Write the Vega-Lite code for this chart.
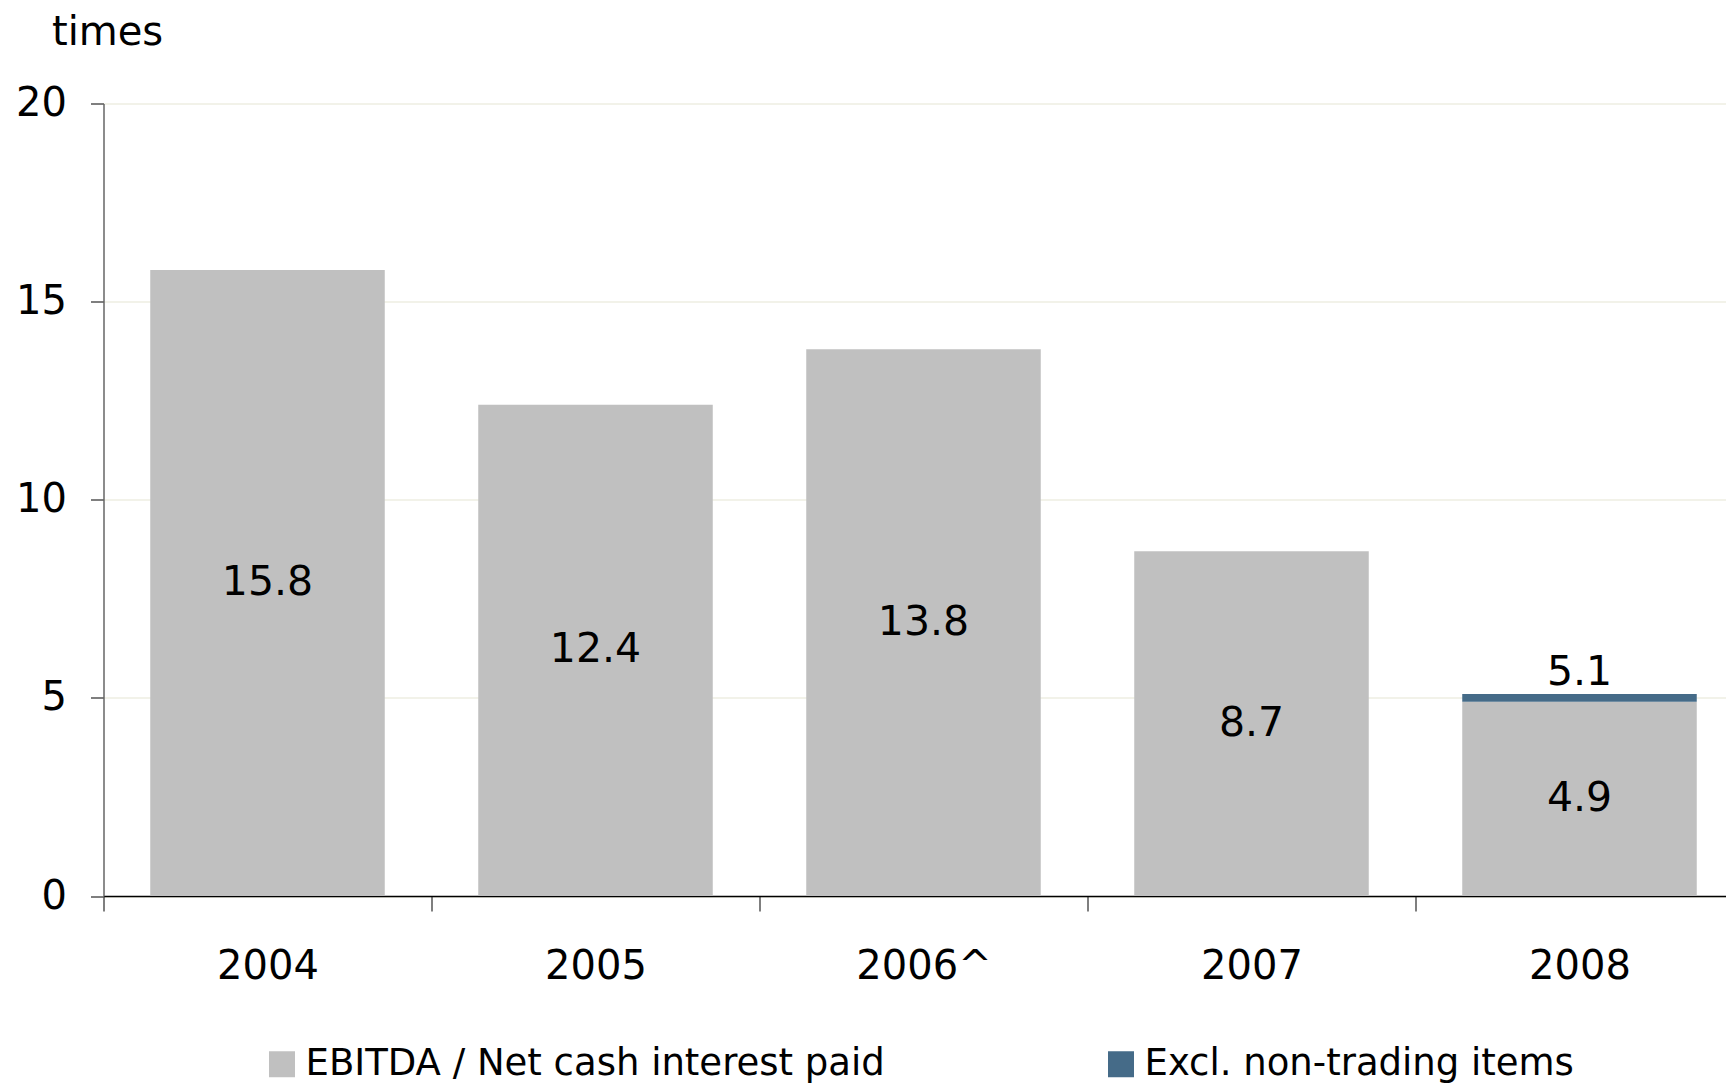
{
  "$schema": "https://vega.github.io/schema/vega-lite/v6.json",
  "autosize": "none",
  "padding": {"left": 103.5, "top": 103.5, "right": 0, "bottom": 187},
  "width": 1622.5,
  "height": 792.5,
  "background": "white",
  "config": {
    "view": {"stroke": null},
    "font": "DejaVu Sans"
  },
  "datasets": {
    "main": [
      {"year": "2004", "series": "EBITDA / Net cash interest paid", "value": 15.8, "label": "15.8"},
      {"year": "2005", "series": "EBITDA / Net cash interest paid", "value": 12.4, "label": "12.4"},
      {"year": "2006^", "series": "EBITDA / Net cash interest paid", "value": 13.8, "label": "13.8"},
      {"year": "2007", "series": "EBITDA / Net cash interest paid", "value": 8.7, "label": "8.7"},
      {"year": "2008", "series": "EBITDA / Net cash interest paid", "value": 4.9, "label": "4.9"},
      {"year": "2008", "series": "Excl. non-trading items", "value": 0.2, "label": "5.1"}
    ],
    "totals": [
      {"year": "2008", "total": 5.1, "label": "5.1"}
    ]
  },
  "layer": [
    {
      "data": {"name": "main"},
      "mark": {"type": "bar"},
      "encoding": {
        "x": {
          "field": "year", "type": "nominal", "sort": null,
          "scale": {"paddingInner": 0.285, "paddingOuter": 0.1425, "range": [0, 1640]},
          "axis": {
            "title": null, "labelAngle": 0, "labelFont": "DejaVu Sans", "labelFontSize": 40,
            "labelColor": "black", "labelPadding": 35, "tickSize": 15,
            "tickOffset": -164, "labelOffset": 164,
            "tickColor": "#555555", "tickWidth": 1.5, "domainColor": "black", "domainWidth": 1.5,
            "labelBaseline": "top"
          }
        },
        "y": {
          "field": "value", "type": "quantitative", "stack": "zero",
          "scale": {"domain": [0, 20], "nice": false},
          "axis": {
            "values": [0, 5, 10, 15, 20], "title": "times", "titleAngle": 0, "titleAlign": "left",
            "titleBaseline": "alphabetic", "titleX": -52, "titleY": -59, "titleFont": "DejaVu Sans",
            "titleFontSize": 40, "titleFontWeight": "normal", "titleColor": "black",
            "labelFont": "DejaVu Sans", "labelFontSize": 40, "labelColor": "black", "labelPadding": 24,
            "tickSize": 13, "tickColor": "#555555", "tickWidth": 1.5, "domainColor": "#666666", "domainWidth": 1.5,
            "grid": true, "gridColor": "#EEEEE2", "gridWidth": 1.5
          }
        },
        "color": {
          "field": "series", "type": "nominal",
          "scale": {"domain": ["EBITDA / Net cash interest paid", "Excl. non-trading items"], "range": ["#C0C0C0", "#456B88"]},
          "legend": {
            "title": null, "orient": "none", "direction": "horizontal", "legendX": 160, "legendY": 942,
            "symbolType": "square", "symbolSize": 676, "symbolStrokeWidth": 0, "symbolOpacity": 1,
            "labelFont": "DejaVu Sans", "labelFontSize": 37, "labelColor": "black", "labelOffset": 5,
            "columnPadding": 217, "padding": 0, "labelLimit": 1000
          }
        },
        "order": {"field": "series", "sort": "ascending"}
      }
    },
    {
      "data": {"name": "main"},
      "transform": [{"filter": "datum.series == 'EBITDA / Net cash interest paid'"}],
      "mark": {"type": "text", "font": "DejaVu Sans", "fontSize": 41, "color": "black", "baseline": "middle", "align": "center"},
      "encoding": {
        "x": {"field": "year", "type": "nominal", "sort": null},
        "y": {"field": "value", "type": "quantitative", "stack": "zero", "bandPosition": 0.5},
        "text": {"field": "label"}
      }
    },
    {
      "data": {"name": "totals"},
      "mark": {"type": "text", "font": "DejaVu Sans", "fontSize": 41, "color": "black", "baseline": "alphabetic", "align": "center", "dy": -9},
      "encoding": {
        "x": {"field": "year", "type": "nominal", "sort": null},
        "y": {"field": "total", "type": "quantitative"},
        "text": {"field": "label"}
      }
    }
  ]
}
